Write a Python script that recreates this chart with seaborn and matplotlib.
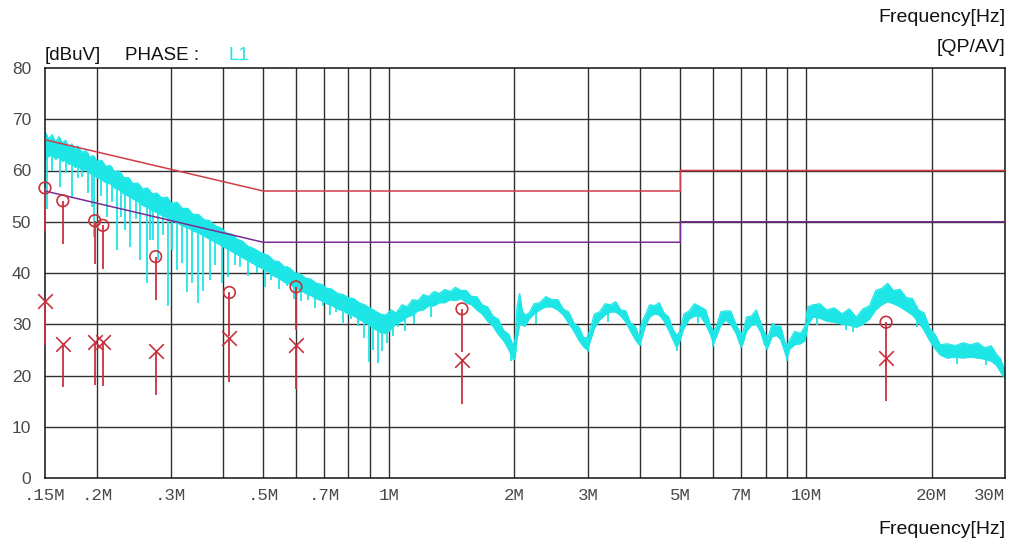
import numpy as np
import matplotlib
matplotlib.use("Agg")
import matplotlib.pyplot as plt
from matplotlib.ticker import NullLocator
import seaborn as sns

# ---------------------------------------------------------------- data
# Peak-scan trace (MHz, upper edge dBuV, lower edge dBuV of the noise band)
trace_mhz = [
    0.150, 0.153, 0.156, 0.159, 0.162, 0.165, 0.168, 0.171, 0.174, 0.177,
    0.180, 0.184, 0.188, 0.192, 0.196, 0.200, 0.205, 0.210, 0.215, 0.220,
    0.226, 0.232, 0.238, 0.244, 0.250, 0.257, 0.264, 0.271, 0.278, 0.286,
    0.294, 0.302, 0.311, 0.320, 0.330, 0.340, 0.350, 0.361, 0.372, 0.384,
    0.396, 0.408, 0.420, 0.433, 0.446, 0.460, 0.474, 0.488, 0.500, 0.515,
    0.530, 0.546, 0.562, 0.579, 0.596, 0.614, 0.632, 0.651, 0.670, 0.690,
    0.711, 0.732, 0.754, 0.777, 0.800, 0.824, 0.849, 0.874, 0.900, 0.927,
    0.955, 0.984, 1.013, 1.043, 1.075, 1.107, 1.140, 1.175, 1.210, 1.246,
    1.284, 1.322, 1.362, 1.403, 1.445, 1.488, 1.533, 1.579, 1.626, 1.675,
    1.725, 1.777, 1.830, 1.885, 1.941, 1.990, 2.010, 2.030, 2.060, 2.090,
    2.120, 2.170, 2.230, 2.300, 2.380, 2.460, 2.540, 2.620, 2.700, 2.780,
    2.860, 2.930, 2.990, 3.040, 3.110, 3.200, 3.300, 3.400, 3.500, 3.600,
    3.700, 3.800, 3.900, 3.980, 4.040, 4.120, 4.220, 4.330, 4.450, 4.570,
    4.690, 4.800, 4.900, 4.980, 5.100, 5.250, 5.400, 5.580, 5.750, 5.900,
    6.000, 6.100, 6.250, 6.420, 6.600, 6.800, 6.950, 7.050, 7.200, 7.400,
    7.600, 7.800, 7.950, 8.100, 8.300, 8.500, 8.700, 8.900, 9.000, 9.150,
    9.400, 9.700, 9.950, 10.10, 10.40, 10.80, 11.20, 11.70, 12.20, 12.70,
    13.20, 13.70, 14.20, 14.70, 15.20, 15.70, 16.20, 16.80, 17.40, 18.00,
    18.60, 19.20, 19.80, 20.40, 21.00, 21.80, 22.80, 23.80, 24.80, 25.80,
    26.80, 27.80, 28.60, 29.30, 30.00,
]
trace_top = [
    67.6, 66.2, 67.0, 65.6, 66.6, 65.4, 65.9, 64.6, 65.2, 64.2,
    64.8, 63.4, 63.9, 62.6, 62.9, 61.8, 62.0, 60.8, 61.0, 59.8,
    59.9, 58.6, 58.6, 57.4, 57.6, 56.4, 56.6, 55.4, 55.6, 54.6,
    54.8, 53.6, 53.8, 52.6, 52.6, 51.4, 51.4, 50.4, 50.2, 49.2,
    48.8, 47.8, 47.6, 46.6, 46.2, 45.2, 44.8, 44.2, 43.8, 43.4,
    42.4, 42.2, 41.2, 41.0, 40.0, 39.8, 39.0, 38.8, 38.0, 37.8,
    37.0, 36.8, 36.0, 35.8, 35.2, 35.0, 34.2, 33.8, 33.2, 32.6,
    32.0, 31.8, 32.8, 32.2, 33.8, 33.4, 34.8, 34.6, 35.8, 35.4,
    36.4, 36.0, 36.8, 36.4, 37.2, 36.6, 36.6, 35.4, 35.4, 33.8,
    33.4, 31.6, 31.0, 28.8, 28.0, 25.6, 27.4, 33.4, 36.0, 32.6,
    31.8, 32.2, 34.0, 34.2, 35.4, 34.8, 34.8, 33.0, 32.4, 30.2,
    29.4, 27.4, 27.4, 29.0, 32.0, 32.4, 34.0, 33.8, 34.4, 32.8,
    32.6, 30.2, 29.6, 27.6, 30.4, 31.8, 33.8, 33.6, 34.2, 32.2,
    31.4, 29.0, 27.8, 28.6, 32.0, 32.6, 34.0, 33.4, 32.8, 29.8,
    28.6, 29.6, 32.4, 32.6, 32.6, 30.0, 28.4, 28.2, 31.4, 31.6,
    32.8, 30.2, 28.4, 27.2, 30.2, 29.6, 29.6, 26.6, 25.8, 27.0,
    28.6, 28.2, 29.6, 33.4, 33.8, 34.0, 32.8, 33.2, 32.0, 33.0,
    31.4, 33.0, 33.6, 36.6, 37.0, 38.0, 36.6, 36.8, 35.2, 35.0,
    32.8, 32.2, 29.2, 28.0, 26.0, 26.2, 25.8, 26.4, 26.0, 26.4,
    25.4, 25.8, 24.2, 23.2, 20.8,
]
trace_low = [
    62.0, 62.8, 63.0, 62.2, 62.6, 61.8, 62.0, 61.2, 61.4, 60.6,
    60.9, 60.0, 60.2, 59.4, 59.2, 58.6, 58.2, 57.6, 57.4, 56.6,
    56.2, 55.4, 55.0, 54.4, 54.0, 53.2, 52.8, 52.2, 51.8, 51.2,
    50.8, 50.2, 49.8, 49.2, 48.8, 48.2, 47.8, 47.2, 46.6, 46.0,
    45.4, 44.8, 44.2, 43.6, 43.0, 42.4, 41.8, 41.2, 40.8, 40.2,
    39.4, 39.0, 38.2, 37.8, 37.0, 36.6, 36.0, 35.6, 35.0, 34.6,
    34.0, 33.6, 33.0, 32.6, 32.0, 31.6, 31.0, 30.4, 29.8, 29.0,
    28.4, 28.2, 29.0, 30.2, 30.6, 31.4, 31.8, 32.6, 32.8, 33.6,
    33.6, 34.2, 34.2, 34.8, 34.6, 35.0, 34.2, 33.8, 32.8, 32.0,
    30.6, 29.6, 28.0, 26.8, 25.0, 23.0, 23.6, 27.0, 30.0, 29.8,
    29.6, 31.0, 32.0, 32.8, 33.4, 33.4, 32.8, 31.8, 30.2, 28.6,
    26.8, 25.6, 25.0, 26.6, 29.2, 30.8, 31.8, 32.4, 32.4, 31.6,
    30.4, 28.6, 27.0, 26.0, 27.2, 29.6, 31.4, 32.0, 31.8, 30.6,
    28.8, 27.0, 25.4, 26.6, 29.2, 31.0, 31.6, 31.6, 30.0, 28.0,
    26.2, 27.6, 29.8, 30.8, 30.0, 28.2, 26.0, 26.0, 28.6, 29.8,
    30.0, 28.4, 26.0, 25.4, 27.6, 27.8, 27.0, 24.6, 23.2, 25.2,
    26.0, 26.2, 26.8, 29.8, 31.4, 31.2, 30.6, 30.4, 30.0, 29.8,
    29.4, 30.0, 31.0, 32.8, 33.8, 34.4, 34.0, 33.4, 32.6, 31.8,
    30.4, 28.8, 26.8, 25.2, 24.0, 23.4, 23.6, 23.4, 23.6, 23.4,
    23.2, 22.8, 22.0, 20.6, 19.4,
]

# Narrow dips of the scan (MHz, from dBuV, down to dBuV)
dip_mhz = [
    0.1517, 0.1559, 0.1632, 0.1684, 0.1740, 0.1799, 0.1840, 0.1903, 0.1946,
    0.1968, 0.2045, 0.2115, 0.2174, 0.2236, 0.2285, 0.2336, 0.2399, 0.2481,
    0.2536, 0.2635, 0.2679, 0.2724, 0.2801, 0.2880, 0.2961, 0.3027, 0.3113,
    0.3201, 0.3291, 0.3383, 0.3496, 0.3593, 0.3733, 0.3837, 0.3986, 0.4120,
    0.4282, 0.4401, 0.4598, 0.4826, 0.5038, 0.5230, 0.5459, 0.5690, 0.5934,
    0.6156, 0.6419, 0.6661, 0.6946, 0.7239, 0.7478, 0.7757, 0.8105, 0.8428,
    0.8705, 0.8948, 0.9146, 0.9399, 0.9653, 0.9930, 1.025, 1.054, 1.095,
    1.150, 1.260, 1.960, 2.000, 2.250, 3.000, 3.350, 4.000, 4.900, 5.500,
    6.000, 7.000, 8.050, 9.000, 10.60, 12.50, 13.00, 18.50, 23.00, 27.00,
]
dip_top = [
    67.0, 66.6, 66.4, 65.6, 65.0, 64.6, 63.8, 63.4, 62.8,
    62.6, 61.8, 60.8, 60.6, 59.6, 59.4, 58.8, 58.2, 57.4,
    57.2, 56.4, 56.2, 55.6, 55.4, 54.8, 54.6, 53.8, 53.6,
    52.6, 52.6, 51.6, 51.2, 50.6, 50.0, 49.4, 48.8, 47.8,
    47.2, 46.4, 45.2, 44.4, 43.6, 43.0, 42.2, 41.4, 40.2,
    39.8, 38.8, 38.2, 37.6, 37.0, 36.2, 35.8, 35.0, 34.4,
    33.8, 33.2, 32.8, 32.4, 32.0, 31.8, 32.4, 32.8, 33.6,
    34.6, 35.6, 27.0, 26.0, 33.8, 27.0, 34.0, 28.0, 28.0, 33.7,
    28.5, 28.5, 28.0, 26.0, 34.0, 32.5, 32.0, 33.5, 26.0, 25.6,
]
dip_low = [
    52.5, 60.0, 56.8, 59.5, 54.8, 58.5, 58.7, 55.6, 52.9,
    47.0, 55.0, 50.9, 53.8, 44.5, 51.0, 48.4, 45.1, 50.6,
    42.5, 38.0, 46.5, 46.4, 42.5, 47.4, 33.6, 44.5, 40.5,
    42.0, 36.2, 38.0, 34.1, 36.4, 38.6, 41.5, 38.0, 39.2,
    41.6, 41.2, 39.5, 40.0, 37.2, 38.6, 36.8, 37.5, 35.0,
    34.5, 34.8, 33.2, 33.5, 31.8, 32.4, 30.2, 31.0, 29.6,
    27.4, 22.6, 25.0, 22.4, 24.8, 26.3, 27.8, 29.4, 28.6,
    30.0, 31.4, 22.8, 23.0, 30.0, 24.6, 30.4, 25.8, 24.8, 30.2,
    25.6, 25.4, 25.0, 22.8, 29.8, 28.8, 28.4, 29.5, 22.2, 22.0,
]

# Limit lines (CISPR 22 class B)
qp_limit_mhz = [0.15, 0.5, 5.0, 5.0, 30.0]
qp_limit_db = [66.0, 56.0, 56.0, 60.0, 60.0]
av_limit_mhz = [0.15, 0.5, 5.0, 5.0, 30.0]
av_limit_db = [56.0, 46.0, 46.0, 50.0, 50.0]

# Final measurements
final_mhz = [0.150, 0.1655, 0.1974, 0.2064, 0.2763, 0.4151, 0.5993, 1.498, 15.56]
qp_db = [56.6, 54.1, 50.2, 49.3, 43.2, 36.2, 37.3, 33.0, 30.4]
av_db = [34.5, 26.2, 26.6, 26.5, 24.7, 27.3, 25.9, 23.0, 23.5]

y_ticks = [0, 10, 20, 30, 40, 50, 60, 70, 80]
x_tick_mhz = [0.15, 0.2, 0.3, 0.5, 0.7, 1, 2, 3, 5, 7, 10, 20, 30]
x_tick_text = [".15M", ".2M", ".3M", ".5M", ".7M", "1M", "2M", "3M",
               "5M", "7M", "10M", "20M", "30M"]
grid_mhz = [0.2, 0.3, 0.4, 0.5, 0.6, 0.7, 0.8, 0.9, 1, 2, 3, 4, 5, 6, 7,
            8, 9, 10, 20]

# ---------------------------------------------------------------- style
CYAN = "#1fe6e6"
RED = "#d23c46"
PURPLE = "#7a2c96"
MARK = "#c8323c"
GRID = "#303030"
STEM_DB = 8.5

sns.set_style("white")
plt.rcParams["font.family"] = ["Liberation Sans", "DejaVu Sans"]

fig = plt.figure(figsize=(10.10, 5.44), dpi=100)
ax = fig.add_axes([45 / 1010, 1 - 478 / 544, 960 / 1010, 410 / 544])
ax.set_xscale("log")
ax.set_xlim(0.15, 30)
ax.set_ylim(0, 80)

for f in grid_mhz:
    ax.axvline(f, color=GRID, lw=1.0, zorder=1)
for y in y_ticks[1:-1]:
    ax.axhline(y, color=GRID, lw=1.0, zorder=1)

# scan trace
ax.fill_between(trace_mhz, trace_low, trace_top, color=CYAN, lw=0, zorder=2)
sns.lineplot(x=trace_mhz, y=trace_top, ax=ax, color=CYAN, lw=0.9,
             estimator=None, sort=False, zorder=2)
sns.lineplot(x=trace_mhz, y=trace_low, ax=ax, color=CYAN, lw=0.9,
             estimator=None, sort=False, zorder=2)
ax.vlines(dip_mhz, dip_low, dip_top, color=CYAN, lw=1.3, zorder=2)

# limits
sns.lineplot(x=qp_limit_mhz, y=qp_limit_db, ax=ax, color=RED, lw=1.1,
             estimator=None, sort=False, zorder=3)
sns.lineplot(x=av_limit_mhz, y=av_limit_db, ax=ax, color=PURPLE, lw=1.1,
             estimator=None, sort=False, zorder=3)

# final measurement markers with stems
qp_arr = np.array(qp_db)
av_arr = np.array(av_db)
ax.vlines(final_mhz, qp_arr - STEM_DB, qp_arr, color=MARK, lw=1.3,
          zorder=4, clip_on=False)
ax.vlines(final_mhz, av_arr - STEM_DB, av_arr, color=MARK, lw=1.3,
          zorder=4, clip_on=False)
sns.scatterplot(x=final_mhz, y=qp_db, ax=ax, marker="o", s=70,
                fc="none", ec=MARK, linewidth=1.2, zorder=5, clip_on=False)
sns.scatterplot(x=final_mhz, y=av_db, ax=ax, marker="x", s=110,
                color=MARK, linewidth=1.2, zorder=5, clip_on=False)

# axes, ticks
ax.xaxis.set_minor_locator(NullLocator())
ax.set_xticks(x_tick_mhz)
ax.set_xticklabels(x_tick_text, family=["Liberation Mono", "DejaVu Sans Mono"],
                   fontsize=12.5, color="#4a4a4a")
ax.get_xticklabels()[-1].set_horizontalalignment("right")
ax.set_yticks(y_ticks)
ax.set_yticklabels([str(v) for v in y_ticks], fontsize=12.5, color="#4a4a4a")
ax.tick_params(axis="x", length=0, pad=7)
ax.tick_params(axis="y", length=0, pad=10)
ax.set_xlabel("")
ax.set_ylabel("")
for s in ax.spines.values():
    s.set_color("#111111")
    s.set_linewidth(1.1)
    s.set_visible(True)

# header / footer texts
fig.text(1005 / 1010, 1 - 18 / 544, "Frequency[Hz]", ha="right", va="center",
         fontsize=14, color="#111111")
fig.text(1005 / 1010, 1 - 48 / 544, "[QP/AV]", ha="right", va="center",
         fontsize=14, color="#111111")
fig.text(45 / 1010, 1 - 56 / 544, "[dBuV]", ha="left", va="center",
         fontsize=13.5, color="#111111")
fig.text(125 / 1010, 1 - 56 / 544, "PHASE :", ha="left", va="center",
         fontsize=13.5, color="#111111")
fig.text(228 / 1010, 1 - 56 / 544, "L1", ha="left", va="center",
         fontsize=13.5, color=CYAN)
fig.text(1005 / 1010, 1 - 530 / 544, "Frequency[Hz]", ha="right", va="center",
         fontsize=14, color="#111111")

fig.savefig("out.png", dpi=100, facecolor="white")
